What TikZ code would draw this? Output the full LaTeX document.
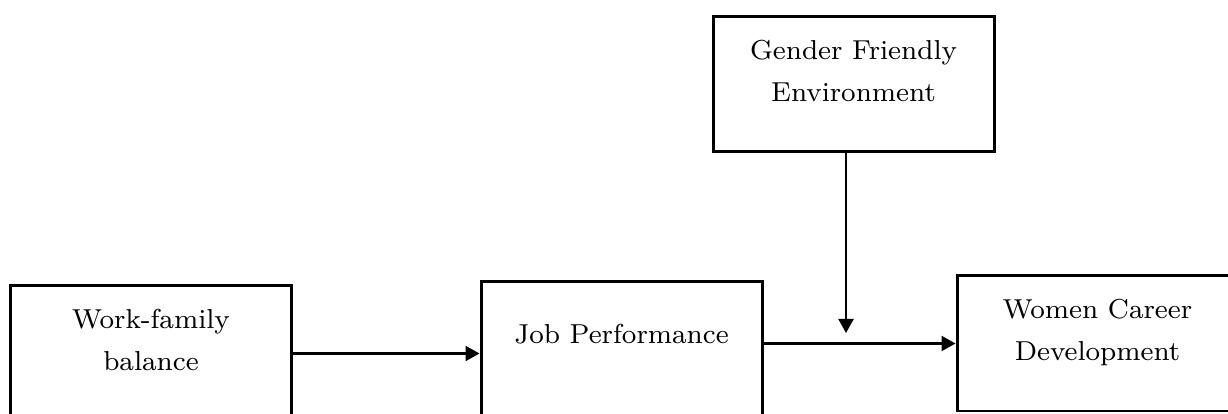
\documentclass[tikz,border=0pt]{standalone}
\usepackage{tikz}
\usetikzlibrary{calc}
\usetikzlibrary{positioning}
\usetikzlibrary{arrows.meta}

\begin{document}
\begin{tikzpicture}[
		box/.style={draw, line width=0.85pt, minimum width=2.81cm, minimum height=1.35cm,
			align=center, font=\fontsize{7.8}{12.2}\selectfont, text height=0.64cm, text depth=0.29cm},
		arr/.style={line width=0.65pt, -{Triangle[length=1.4mm, width=1.5mm]}}
	]
	\useasboundingbox (0,0) rectangle (12.28,-4.14);
	\clip (0,0) rectangle (12.28,-4.14);
	
	\node[box] (wf) at (1.51,-3.535) {Work-family\\balance};
	\node[box, minimum height=1.73cm, text height=0.2cm, text depth=0.69cm] (jp) at (6.215,-3.685) {Job Performance};
	\node[box] (gfe) at (8.535,-0.845) {Gender Friendly\\Environment};
	\node[box] (wcd) at (10.975,-3.435) {Women Career\\Development};
	
	\coordinate (m) at (8.46,-3.33);
	
	\draw[arr] (wf.east) -- (wf.east -| jp.west);
	\draw[arr] (wcd.west -| jp.east) -- (wcd.west);
	\draw[arr] (gfe.south -| m) -- (m);
\end{tikzpicture}
\end{document}
